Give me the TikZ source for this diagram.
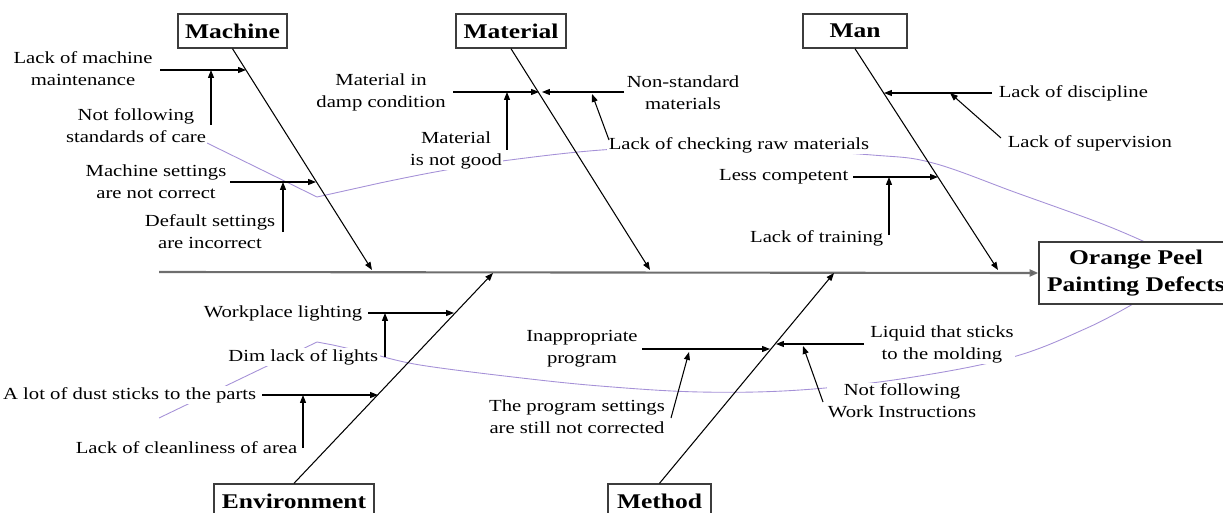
\documentclass[tikz,border=0pt]{standalone}
\usepackage{fontspec}
\setmainfont{Liberation Serif}[FakeStretch=1.22]
\usetikzlibrary{arrows.meta}
\definecolor{lav}{RGB}{165,145,215}
\definecolor{boxline}{RGB}{60,60,60}
\definecolor{spinec}{RGB}{110,110,110}
\begin{document}
\begin{tikzpicture}[x=0.02cm,y=-0.02cm,
  lbl/.style={font=\fontsize{9.64pt}{12.47pt}\selectfont, align=center, fill=white, inner sep=0.8pt},
  cat/.style={font=\fontsize{11.9pt}{14pt}\selectfont\bfseries, draw=boxline, line width=0.8pt, fill=white, minimum height=0.68cm, inner sep=0pt},
  tip/.style={-{Triangle[length=4.5pt,width=3.4pt]}},
  bone/.style={line width=0.6pt, tip},
  arr/.style={line width=0.6pt, tip},
  spine/.style={draw=spinec, line width=1.2pt, -{Triangle[length=5pt,width=4pt,fill=black]}},
  lavline/.style={draw=lav, line width=0.5pt}]
\useasboundingbox (0,0) rectangle (1223,513);
\clip (0,0) rectangle (1223,513);

% lavender outline (behind everything)
\draw[lavline] (207,143) -- (317,197) -- (380,183);
\draw[lavline] plot[smooth,tension=0.6] coordinates {(380,183) (435,172) (502,161) (617,149) (745,148) (872,155) (933,163) (1017,193) (1100,223) (1145,242)};
\draw[lavline] plot[smooth,tension=0.6] coordinates {(1133,304) (1087,328) (1013,357) (907,378) (800,390) (700,392) (600,386) (513,377) (420,365) (377,355)};
\draw[lavline] (377,355) -- (333,345) -- (317,342) -- (159,418);

% labels
\node[lbl] (t1) at (83,69) {Lack of machine\\maintenance};
\node[lbl] (t2) at (136,126) {Not following\\standards of care};
\node[lbl] (t3) at (156,182) {Machine settings\\are not correct};
\node[lbl] (t4) at (210,232) {Default settings\\are incorrect};
\node[lbl] (t5) at (381,92) {Material in\\damp condition};
\node[lbl] (t6) at (456,150) {Material\\is not good};
\node[lbl] (t7) at (683,93) {Non-standard\\materials};
\node[lbl, anchor=west] (t8) at (607,145) {Lack of checking raw materials};
\node[lbl, anchor=west] (t9) at (997,93) {Lack of discipline};
\node[lbl, anchor=west] (t10) at (1006,143) {Lack of supervision};
\node[lbl, anchor=east] (t11) at (850,177) {Less competent};
\node[lbl, anchor=east] (t12) at (885,238) {Lack of training};
\node[lbl, anchor=east] (t13) at (364,313) {Workplace lighting};
\node[lbl, anchor=east] (t14) at (380,357) {Dim lack of lights};
\node[lbl, anchor=east] (t15) at (258,395) {A lot of dust sticks to the parts};
\node[lbl, anchor=east] (t16) at (299,448) {Lack of cleanliness of area};
\node[lbl] (t17) at (582,349) {Inappropriate\\program};
\node[lbl] (t18) at (577,417) {The program settings\\are still not corrected};
\node[lbl] (t19) at (942,344) {Liquid that sticks\\to the molding};
\node[lbl] (t20) at (902,401) {Not following\\Work Instructions};

% category boxes and head
\node[cat, minimum width=2.18cm] (mach) at (232.5,31) {Machine};
\node[cat, minimum width=2.2cm] (mat) at (511,31) {Material};
\node[cat, minimum width=2.08cm] (man) at (855,31) {Man};
\node[cat, minimum width=3.2cm] (env) at (294,501) {Environment};
\node[cat, minimum width=2.06cm] (meth) at (659.5,501) {Method};
\node[cat, minimum width=3.88cm, minimum height=1.24cm, align=center,
      font=\fontsize{11.9pt}{15.3pt}\selectfont\bfseries] (head) at (1136,273) {Orange Peel\\Painting Defects};

% spine
\coordinate (sp0) at (159,272);
\draw[spine] (sp0) -- (head.west);

% bones
\coordinate (machT) at (372,270);
\coordinate (matT) at (650,270);
\coordinate (manT) at (998,270);
\coordinate (envT) at (493,273);
\coordinate (methT) at (834,273);
\draw[bone] (mach.south) -- (machT);
\draw[bone] (mat.south) -- (matT);
\draw[bone] (man.south) -- (manT);
\draw[bone] (env.north) -- (envT);
\draw[bone] (meth.north) -- (methT);

% Machine causes
\coordinate (a1) at (160,70);  \coordinate (b1) at (246,70);
\coordinate (a2) at (211,125); \coordinate (b2) at (211,70);
\coordinate (a3) at (230,182); \coordinate (b3) at (316,182);
\coordinate (a4) at (283,232); \coordinate (b4) at (283,182);
\draw[arr] (a1) -- (b1);
\draw[arr] (a2) -- (b2);
\draw[arr] (a3) -- (b3);
\draw[arr] (a4) -- (b4);

% Material causes
\coordinate (a5) at (453,92);  \coordinate (b5) at (539,92);
\coordinate (a6) at (507,150); \coordinate (b6) at (507,92);
\coordinate (a7) at (624,92);  \coordinate (b7) at (542,92);
\coordinate (a8) at (609,140); \coordinate (b8) at (592,94);
\draw[arr] (a5) -- (b5);
\draw[arr] (a6) -- (b6);
\draw[arr] (a7) -- (b7);
\draw[arr] (a8) -- (b8);

% Man causes
\coordinate (a9) at (992,93);   \coordinate (b9) at (884,93);
\coordinate (a10) at (1001,138); \coordinate (b10) at (950,93);
\coordinate (a11) at (853,177); \coordinate (b11) at (938,177);
\coordinate (a12) at (889,235); \coordinate (b12) at (889,177);
\draw[arr] (a9) -- (b9);
\draw[arr] (a10) -- (b10);
\draw[arr] (a11) -- (b11);
\draw[arr] (a12) -- (b12);

% Environment causes
\coordinate (a13) at (368,313); \coordinate (b13) at (454,313);
\coordinate (a14) at (385,357); \coordinate (b14) at (385,313);
\coordinate (a15) at (262,395); \coordinate (b15) at (378,395);
\coordinate (a16) at (303,448); \coordinate (b16) at (303,395);
\draw[arr] (a13) -- (b13);
\draw[arr] (a14) -- (b14);
\draw[arr] (a15) -- (b15);
\draw[arr] (a16) -- (b16);

% Method causes
\coordinate (a17) at (642,349); \coordinate (b17) at (770,349);
\coordinate (a18) at (671,418); \coordinate (b18) at (689,352);
\coordinate (a19) at (864,344); \coordinate (b19) at (776,344);
\coordinate (a20) at (823,402); \coordinate (b20) at (803,346);
\draw[arr] (a17) -- (b17);
\draw[arr] (a18) -- (b18);
\draw[arr] (a19) -- (b19);
\draw[arr] (a20) -- (b20);
\end{tikzpicture}
\end{document}
